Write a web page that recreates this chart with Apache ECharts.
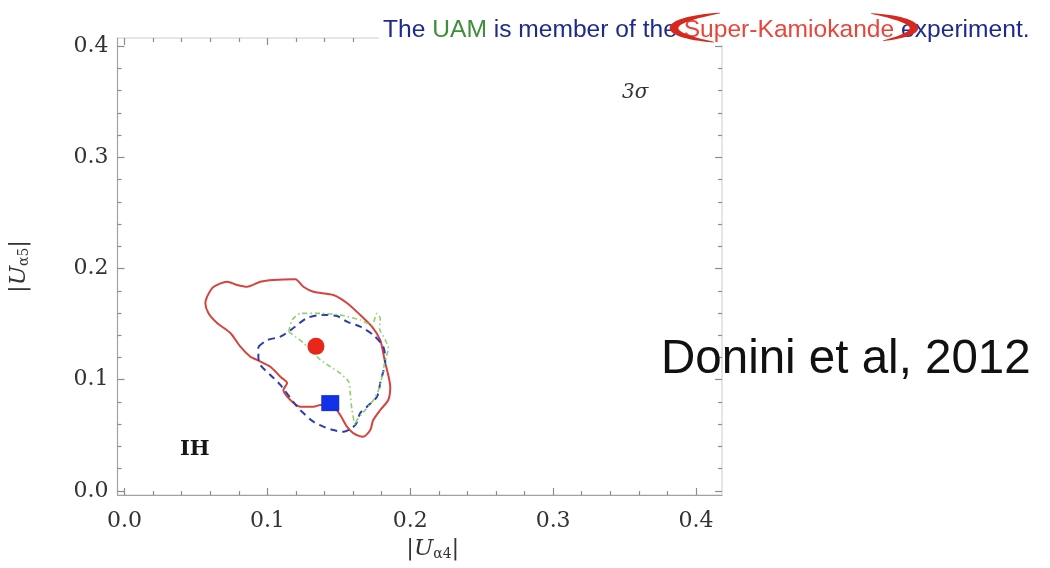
<!DOCTYPE html>
<html>
<head>
<meta charset="utf-8">
<script src="https://cdn.jsdelivr.net/npm/echarts@6/dist/echarts.min.js"></script>
<style>
  html, body { margin: 0; padding: 0; background: #ffffff; }
  #chart { width: 1050px; height: 568px; }
</style>
</head>
<body>
<div id="chart"></div>
<script>
// 3 sigma allowed regions in the (|U_a4|, |U_a5|) plane, inverted hierarchy
const redContour = [
  [0.0578, 0.1747], [0.0622, 0.1834], [0.0718, 0.1881], [0.0788, 0.1852], [0.0858, 0.1836],
  [0.0951, 0.1881], [0.1042, 0.1897], [0.1196, 0.1903], [0.1252, 0.1836], [0.1322, 0.1791],
  [0.1462, 0.1762], [0.1557, 0.1690], [0.1650, 0.1582], [0.1732, 0.1477], [0.1790, 0.1357],
  [0.1811, 0.1240], [0.1825, 0.1151], [0.1846, 0.1043], [0.1860, 0.0938], [0.1846, 0.0818],
  [0.1790, 0.0728], [0.1741, 0.0638], [0.1720, 0.0548], [0.1671, 0.0488], [0.1601, 0.0521],
  [0.1557, 0.0578], [0.1510, 0.0683], [0.1462, 0.0758], [0.1371, 0.0773], [0.1322, 0.0758],
  [0.1231, 0.0758], [0.1161, 0.0818], [0.1112, 0.0908], [0.1138, 0.0971], [0.1091, 0.1027],
  [0.1021, 0.1117], [0.0928, 0.1178], [0.0881, 0.1207], [0.0811, 0.1297], [0.0741, 0.1420],
  [0.0648, 0.1510], [0.0587, 0.1600], [0.0566, 0.1690], [0.0578, 0.1747]
];
const blueContour = [
  [0.0937, 0.1297], [0.0998, 0.1357], [0.1091, 0.1387], [0.1182, 0.1465], [0.1278, 0.1555],
  [0.1392, 0.1582], [0.1487, 0.1573], [0.1557, 0.1522], [0.1650, 0.1477], [0.1741, 0.1402],
  [0.1811, 0.1297], [0.1825, 0.1178], [0.1790, 0.0971], [0.1767, 0.0848], [0.1697, 0.0758],
  [0.1650, 0.0701], [0.1615, 0.0593], [0.1531, 0.0533], [0.1462, 0.0548], [0.1392, 0.0578],
  [0.1322, 0.0623], [0.1252, 0.0701], [0.1208, 0.0758], [0.1091, 0.0953], [0.1021, 0.1043],
  [0.0951, 0.1133], [0.0937, 0.1207], [0.0937, 0.1297]
];
const greenContour = [
  [0.1149, 0.1432], [0.1173, 0.1537], [0.1231, 0.1597], [0.1371, 0.1597], [0.1510, 0.1582],
  [0.1650, 0.1537], [0.1732, 0.1492], [0.1767, 0.1597], [0.1790, 0.1552], [0.1785, 0.1462],
  [0.1825, 0.1357], [0.1848, 0.1283], [0.1825, 0.1178], [0.1802, 0.1027], [0.1778, 0.0908],
  [0.1743, 0.0818], [0.1685, 0.0728], [0.1627, 0.0638], [0.1615, 0.0593], [0.1592, 0.0728],
  [0.1580, 0.0878], [0.1569, 0.0982], [0.1510, 0.1058], [0.1441, 0.1117], [0.1371, 0.1178],
  [0.1313, 0.1252], [0.1254, 0.1328], [0.1196, 0.1387], [0.1149, 0.1432]
];
// Best-fit points
const bestFitCircle = [[0.134, 0.130]];
const bestFitSquare = [[0.144, 0.079]];

// Frame ticks
const majorTicks = [0, 0.1, 0.2, 0.3, 0.4];
const tickLabels = ['0.0', '0.1', '0.2', '0.3', '0.4'];
const minorTicks = [0.02, 0.04, 0.06, 0.08, 0.12, 0.14, 0.16, 0.18, 0.22, 0.24, 0.26, 0.28,
                    0.32, 0.34, 0.36, 0.38];

// Plot range with a little padding around the 0..0.4 square
const X_RANGE = [-0.0049, 0.4182];
const Y_RANGE = [-0.0036, 0.4072];

const SERIF = '"DejaVu Serif", "Liberation Serif", serif';
const SANS = '"Liberation Sans", Arial, sans-serif';
const TICK_COLOR = '#8c8c8c';
const LABEL_COLOR = '#333333';

function labelFor(v) {
  const i = majorTicks.findIndex(t => Math.abs(t - v) < 1e-9);
  return i >= 0 ? tickLabels[i] : '';
}

function frameAxis(dim, position, ticks, len, withLabels, extra) {
  const range = dim === 'x' ? X_RANGE : Y_RANGE;
  const main = position === 'bottom' || position === 'left';
  return Object.assign({
    type: 'value',
    gridIndex: 0,
    position: position,
    min: range[0],
    max: range[1],
    axisLine: { show: main && withLabels, onZero: false, lineStyle: { color: '#a2a2a2', width: 1.2 } },
    splitLine: { show: false },
    axisTick: {
      show: true, inside: true, length: len, customValues: ticks,
      lineStyle: { color: TICK_COLOR, width: 1.2 }
    },
    axisLabel: withLabels ? {
      show: true, customValues: majorTicks, formatter: labelFor,
      fontFamily: SERIF, fontSize: 22, color: LABEL_COLOR, margin: dim === 'x' ? 15 : 9
    } : { show: false }
  }, extra || {});
}

const subRich = {
  m: { fontFamily: SERIF, fontSize: 23, color: LABEL_COLOR, fontStyle: 'italic' },
  b: { fontFamily: SERIF, fontSize: 23, color: LABEL_COLOR },
  s: { fontFamily: SERIF, fontSize: 14, color: LABEL_COLOR, verticalAlign: 'bottom', padding: [10, 0, 0, 0] }
};

// Thick swoosh ring around the experiment name
function crescent(cx, cy, rx, ry, a0, a1, w) {
  const outer = [], inner = [];
  const n = 32;
  for (let i = 0; i <= n; i++) {
    const t = i / n;
    const a = (a0 + (a1 - a0) * t) * Math.PI / 180;
    const th = w * Math.sin(Math.PI * t) + 0.8;
    outer.push([cx + (rx + th / 2) * Math.cos(a), cy + (ry + th / 2) * Math.sin(a)]);
    inner.unshift([cx + (rx - th / 2) * Math.cos(a), cy + (ry - th / 2) * Math.sin(a)]);
  }
  return outer.concat(inner);
}

const chart = echarts.init(document.getElementById('chart'), null, { renderer: 'canvas' });

chart.setOption({
  backgroundColor: '#ffffff',
  animation: false,
  grid: {
    left: 117, top: 38, right: 328, bottom: 73,
    show: true, borderColor: '#cdcdcd', borderWidth: 1, backgroundColor: 'transparent'
  },
  xAxis: [
    frameAxis('x', 'bottom', majorTicks, 7, true, {
      name: '{b||}{m|U}{s|α4}{b||}',
      nameLocation: 'middle', nameGap: 42,
      nameTextStyle: { rich: subRich, padding: [0, 0, 0, 26] }
    }),
    frameAxis('x', 'bottom', minorTicks, 4, false),
    frameAxis('x', 'top', majorTicks, 7, false),
    frameAxis('x', 'top', minorTicks, 4, false)
  ],
  yAxis: [
    frameAxis('y', 'left', majorTicks, 7, true, {
      name: '{b||}{m|U}{s|α5}{b||}',
      nameLocation: 'middle', nameGap: 86,
      nameTextStyle: { rich: subRich }
    }),
    frameAxis('y', 'left', minorTicks, 4, false),
    frameAxis('y', 'right', majorTicks, 7, false),
    frameAxis('y', 'right', minorTicks, 4, false)
  ],
  series: [
    {
      name: 'red contour', type: 'line', data: redContour,
      xAxisIndex: 0, yAxisIndex: 0, symbol: 'none', smooth: 0.25,
      lineStyle: { color: '#d6433c', width: 2 }
    },
    {
      name: 'blue contour', type: 'line', data: blueContour,
      xAxisIndex: 0, yAxisIndex: 0, symbol: 'none', smooth: 0.3,
      lineStyle: { color: '#2b3db4', width: 2, type: [7, 5] }
    },
    {
      name: 'green contour', type: 'line', data: greenContour,
      xAxisIndex: 0, yAxisIndex: 0, symbol: 'none', smooth: 0.2,
      lineStyle: { color: '#8fd26c', width: 1.6, type: [5, 3, 1.5, 3] }
    },
    {
      name: 'best fit circle', type: 'scatter', data: bestFitCircle,
      xAxisIndex: 0, yAxisIndex: 0, symbol: 'circle', symbolSize: 17,
      itemStyle: { color: '#e8261a', opacity: 1 }, z: 5
    },
    {
      name: 'best fit square', type: 'scatter', data: bestFitSquare,
      xAxisIndex: 0, yAxisIndex: 0, symbol: 'rect', symbolSize: [18, 16],
      itemStyle: { color: '#1230e6', opacity: 1 }, z: 5
    }
  ],
  graphic: [
    {
      type: 'text', left: 379, top: 16, z: 10,
      style: {
        text: '{b|The }{g|UAM}{b| is member of the }{r|Super-Kamiokande}{b| experiment.}',
        backgroundColor: '#ffffff', padding: [2, 4, 2, 4],
        rich: {
          b: { fill: '#1d2a8f', fontFamily: SANS, fontSize: 24.6 },
          g: { fill: '#3f8f3a', fontFamily: SANS, fontSize: 24.6 },
          r: { fill: '#e8453b', fontFamily: SANS, fontSize: 24.6 }
        }
      }
    },
    {
      type: 'polygon', z: 11, silent: true,
      shape: { points: crescent(794, 28, 120, 19, 132, 232, 8) },
      style: { fill: '#d6281e' }
    },
    {
      type: 'polygon', z: 11, silent: true,
      shape: { points: crescent(794, 28, 120, 19, -50, 42, 8) },
      style: { fill: '#d6281e' }
    },
    {
      type: 'text', left: 661, top: 336, z: 10,
      style: { text: 'Donini et al, 2012', fill: '#111111', fontFamily: SANS, fontSize: 47.5 }
    },
    {
      type: 'text', left: 622, top: 83, z: 10,
      style: { text: '3σ', fill: '#333333', fontFamily: SERIF, fontSize: 20, fontStyle: 'italic' }
    },
    {
      type: 'text', left: 180, top: 439, z: 10,
      style: { text: 'IH', fill: '#151515', fontFamily: SERIF, fontSize: 21, fontWeight: 'bold' }
    }
  ]
});
</script>
</body>
</html>
